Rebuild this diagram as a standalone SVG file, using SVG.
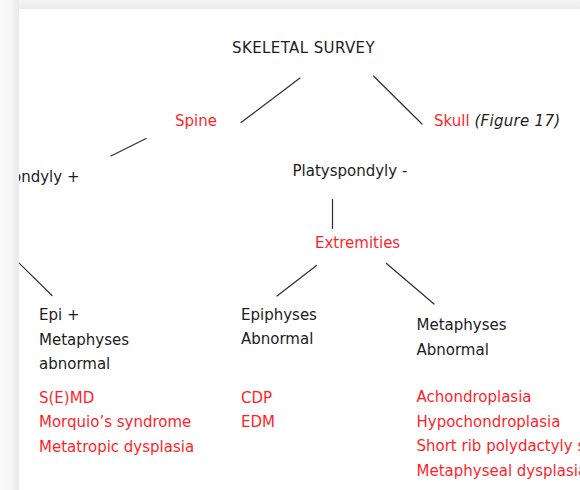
<svg xmlns="http://www.w3.org/2000/svg" width="580" height="490" viewBox="0 0 580 490">
  <defs>
    <linearGradient id="leftBand" x1="0" y1="0" x2="1" y2="0">
      <stop offset="0" stop-color="#fbfbfb"/>
      <stop offset="0.6" stop-color="#f4f4f4"/>
      <stop offset="1" stop-color="#e9e9e9"/>
    </linearGradient>
    <linearGradient id="topBand" x1="0" y1="0" x2="0" y2="1">
      <stop offset="0" stop-color="#f4f4f4"/>
      <stop offset="1" stop-color="#ebebeb"/>
    </linearGradient>
    <clipPath id="card">
      <rect x="19" y="9" width="561" height="481"/>
    </clipPath>
    <style>
      text { font-family: "DejaVu Sans", "Verdana", sans-serif; font-size: 15px; }
      .k { fill: #1c1c24; }
      .r { fill: #ff1f2b; }
      .it { font-style: italic; fill: #1c1c24; letter-spacing: 0.3px; }
      .title { letter-spacing: 0.4px; }
      .c line { stroke: #2e2e2e; stroke-width: 1.2; stroke-linecap: round; }
    </style>
  </defs>

  <!-- background frame -->
  <rect x="0" y="0" width="580" height="490" fill="#f2f2f2"/>
  <rect x="0" y="0" width="580" height="9" fill="url(#topBand)"/>
  <rect x="0" y="0" width="19" height="490" fill="url(#leftBand)"/>
  <rect x="19" y="9" width="561" height="481" fill="#ffffff"/>

  <g clip-path="url(#card)">
    <g id="connectors" class="c">
      <line x1="300" y1="78" x2="241" y2="122.5"/>
      <line x1="373.5" y1="76" x2="422" y2="124"/>
      <line x1="146" y1="138.5" x2="111" y2="156"/>
      <line x1="332.5" y1="199.5" x2="332.5" y2="228.5"/>
      <line x1="316.5" y1="265.5" x2="277" y2="296"/>
      <line x1="386.5" y1="263.5" x2="434" y2="304"/>
      <line x1="18" y1="262" x2="52" y2="295.5"/>
    </g>

    <g id="skeletal-survey">
      <text class="k title" x="232" y="53">SKELETAL SURVEY</text>
    </g>
    <g id="spine">
      <text class="r" x="175" y="125.5">Spine</text>
    </g>
    <g id="skull">
      <text x="434" y="125.5"><tspan class="r">Skull</tspan> <tspan class="it">(Figure 17)</tspan></text>
    </g>
    <g id="platyspondyly-plus">
      <text class="k" x="-42.5" y="181.5">Platyspondyly +</text>
    </g>
    <g id="platyspondyly-minus">
      <text class="k" x="292.5" y="175.5">Platyspondyly -</text>
    </g>
    <g id="extremities">
      <text class="r" x="315" y="248">Extremities</text>
    </g>
    <g id="epi-metaphyses">
      <text class="k" x="39" y="320">Epi +</text>
      <text class="k" x="39" y="344.5">Metaphyses</text>
      <text class="k" x="39" y="369">abnormal</text>
      <text class="r" x="39" y="402.5">S(E)MD</text>
      <text class="r" x="39" y="427">Morquio’s syndrome</text>
      <text class="r" x="39" y="451.5">Metatropic dysplasia</text>
    </g>
    <g id="epiphyses">
      <text class="k" x="241" y="319.5">Epiphyses</text>
      <text class="k" x="241" y="344">Abnormal</text>
      <text class="r" x="241" y="402.5">CDP</text>
      <text class="r" x="241" y="427">EDM</text>
    </g>
    <g id="metaphyses">
      <text class="k" x="416.5" y="330">Metaphyses</text>
      <text class="k" x="416.5" y="354.5">Abnormal</text>
      <text class="r" x="416.5" y="402">Achondroplasia</text>
      <text class="r" x="416.5" y="426.5">Hypochondroplasia</text>
      <text class="r" x="416.5" y="451">Short rib polydactyly syndrome</text>
      <text class="r" x="416.5" y="475.5">Metaphyseal dysplasia</text>
    </g>
  </g>
</svg>
